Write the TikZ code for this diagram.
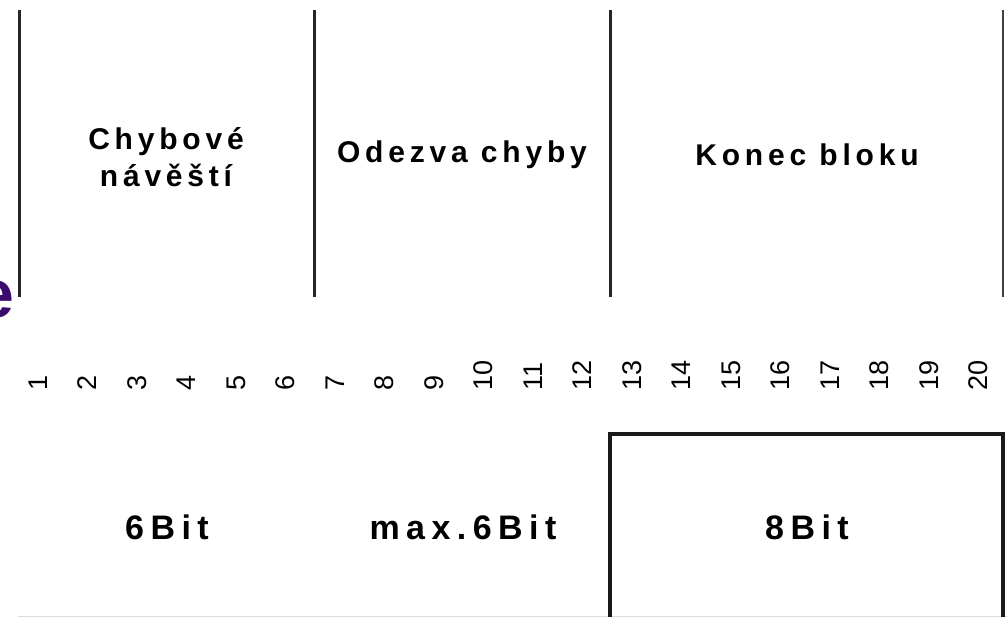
\documentclass[tikz,border=0pt]{standalone}
\usepackage{fontspec}
\setmainfont{Liberation Sans}
\newfontfamily\trackfont[LetterSpace=16]{Liberation Sans}
\newfontfamily\trackfontb[LetterSpace=19]{Liberation Sans}
\definecolor{epurple}{HTML}{3A0A6C}
\definecolor{faint}{HTML}{DDDDDD}
\tikzset{
  sep/.style={line width=3pt, black!85},
  head/.style={inner sep=0, align=center, font=\trackfont\bfseries\fontsize{30}{37}\selectfont},
  size/.style={inner sep=0, font=\trackfontb\bfseries\fontsize{34}{36}\selectfont},
  bitno/.style={inner sep=0, rotate=90, anchor=west, font=\fontsize{27}{28}\selectfont},
}
\begin{document}
\begin{tikzpicture}[x=1pt,y=-1pt]
\useasboundingbox (0,0) rectangle (1007,617);
\clip (0,0) rectangle (1007,617);
% separators
\coordinate (s1t) at (19,10);  \coordinate (s1b) at (19,297);
\coordinate (s2t) at (314,10); \coordinate (s2b) at (314,297);
\coordinate (s3t) at (610,10); \coordinate (s3b) at (610,297);
\coordinate (s4t) at (1003,10);\coordinate (s4b) at (1003,297);
\draw[sep] (s1t) -- (s1b);
\draw[sep] (s2t) -- (s2b);
\draw[sep] (s3t) -- (s3b);
\draw[sep, line width=2.6pt, black!75] (s4t) -- (s4b);
% headings
\node[head] (h1) at (166,157) {Chybové\\návěští};
\node[head] (h2) at (462,155) {Odezva chyby};
\node[head] (h3) at (807,155) {Konec bloku};
% bit numbers
\foreach \i in {1,...,20}{
  \node[bitno] (n\i) at ({38+(\i-1)*49.5},391) {\i};
}
% bottom
\coordinate (gl) at (18,616); \coordinate (gr) at (1007,616);
\draw[faint, line width=1pt] (gl) -- (gr);
\coordinate (b1) at (610,625); \coordinate (b2) at (610,434);
\coordinate (b3) at (1003,434); \coordinate (b4) at (1003,625);
\draw[line width=3.6pt, black!90, line join=miter] (b1) -- (b2) -- (b3) -- (b4);
\node[size] (z1) at (167,527) {6Bit};
\node[size] (z2) at (463,527) {max.6Bit};
\node[size] (z3) at (807,527) {8Bit};
% purple letter at the left edge
\node[inner sep=0, anchor=base east, text=epurple, font=\bfseries\fontsize{68}{70}\selectfont] (e) at (15,318) {e};
\end{tikzpicture}
\end{document}
